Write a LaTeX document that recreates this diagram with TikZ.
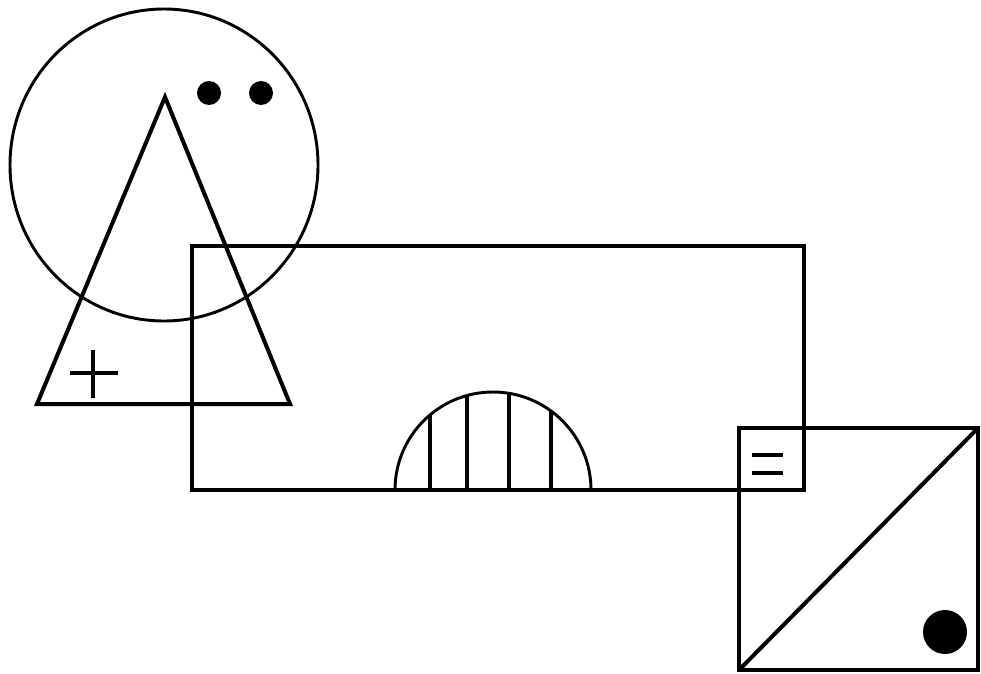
\documentclass[tikz,border=0pt]{standalone}
\begin{document}
\begin{tikzpicture}[x=0.75pt,y=-0.75pt,
  thin line/.style={line width=2.2pt,line join=miter},
  thick line/.style={line width=3pt,line join=miter},
  dotfill/.style={fill=black}]
\useasboundingbox (0,0) rectangle (981,674);
% circle with eyes
\draw[thin line] (164,165) ellipse [x radius=154, y radius=156];
\fill[dotfill] (209,93) circle [radius=12];
\fill[dotfill] (261,93) circle [radius=12];
% triangle
\coordinate (apex) at (165,97);
\coordinate (bl) at (37,404);
\coordinate (br) at (290,404);
\draw[thick line] (apex) -- (bl) -- (br) -- cycle;
% plus
\draw[line width=2.4pt] (70,373) -- (118,373);
\draw[line width=2.4pt] (93,350) -- (93,398);
% rectangle
\draw[thick line] (192,246) rectangle (804,490);
% half circle with hatching
\draw[thin line] (395,490) arc [start angle=180, end angle=360, radius=98];
\foreach \xx in {430,467,509,551} {
  \pgfmathsetmacro{\hh}{sqrt(98*98-(\xx-493)*(\xx-493))}
  \draw[thick line] (\xx,490) -- (\xx,490-\hh);
}
% square with diagonal
\draw[thick line] (739,428) rectangle (978,670);
\draw[thick line] (739,670) -- (978,428);
\fill[dotfill] (945,632) circle [radius=22];
% equals sign
\draw[line width=2.6pt] (752,455) -- (783,455);
\draw[line width=2.6pt] (752,473) -- (783,473);
\end{tikzpicture}
\end{document}
